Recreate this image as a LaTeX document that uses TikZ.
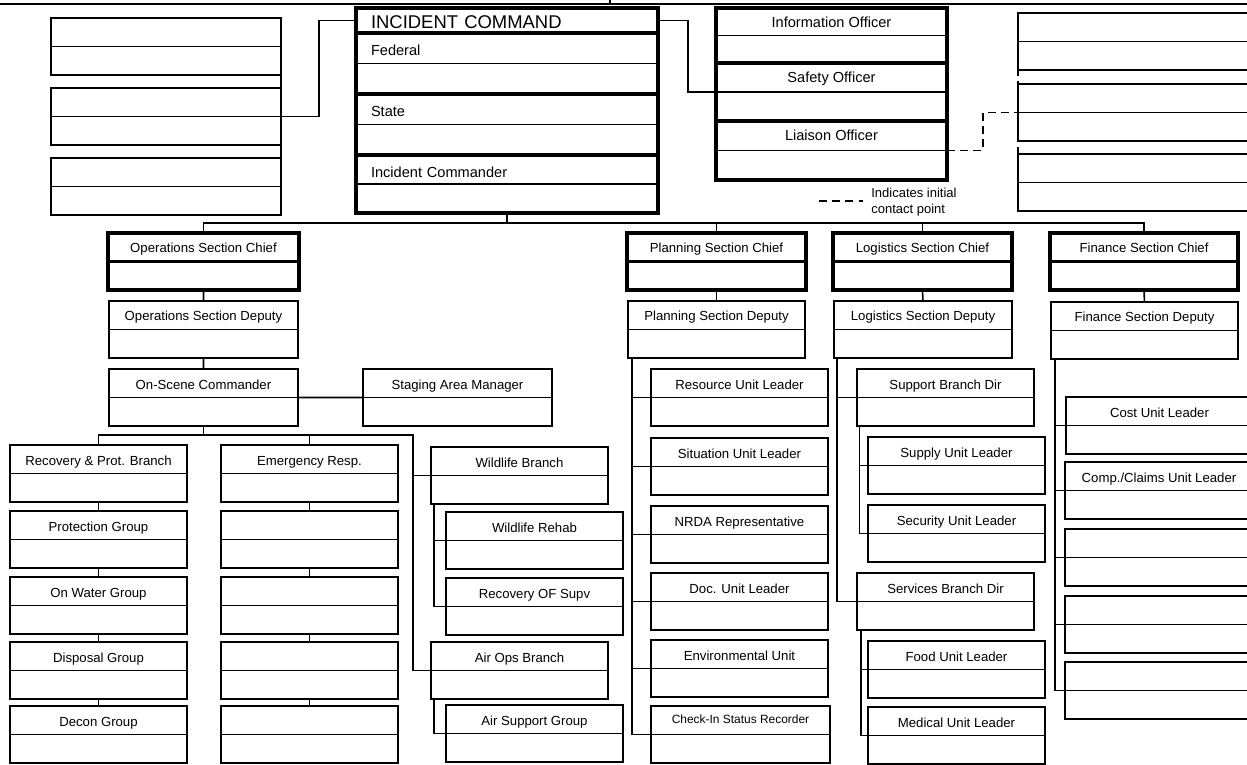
\documentclass[tikz,border=0pt]{standalone}
\usepackage{fontspec}
\setmainfont{Liberation Sans}
\usetikzlibrary{positioning}

\begin{document}
\begin{tikzpicture}[
    x=0.02cm, y=-0.02cm,
    box/.style={draw, line width=1pt, anchor=north west, inner sep=0pt, outer sep=0pt,
        minimum width=3.54cm, text height=0.4cm, text depth=0.74cm,
        font=\fontsize{7.5}{9}\selectfont,
        path picture={\draw[line width=0.8pt] (path picture bounding box.west) -- (path picture bounding box.east);}},
    chief/.style={box, line width=2.3pt,
        path picture={\draw[line width=2pt] (path picture bounding box.west) -- (path picture bounding box.east);}},
    icrow/.style={box, line width=2.3pt, minimum width=6.04cm, text width=5.44cm, align=left,
        inner xsep=0.3cm, text height=0.46cm, text depth=0.76cm, font=\fontsize{8.3}{10}\selectfont},
    staff/.style={box, line width=2.3pt, minimum width=4.62cm, font=\fontsize{8.3}{10}\selectfont},
    link/.style={line width=0.9pt},
    contact/.style={line width=0.9pt, dash pattern=on 4.5pt off 3pt},
    lbl/.style={font=\fontsize{7.4}{9}\selectfont}
]
    \path[use as bounding box] (0,0) rectangle (1247,764);
    \clip (0,0) rectangle (1247,764);

    % top rule
    \coordinate (rl) at (0,4);
    \coordinate (rr) at (1247,4);
    \coordinate (rt) at (610,0);
    \draw[line width=1.5pt] (rl) -- (rr) (rt) -- (rt |- rl);

    % agencies (left)
    \node[box, minimum width=4.6cm] (ag1) at (51,18) {};
    \node[box, minimum width=4.6cm] (ag2) at (51,88) {};
    \node[box, minimum width=4.6cm] (ag3) at (51,158) {};

    % incident command
    \node[icrow, text height=0.42cm, text depth=0.08cm, font=\fontsize{10.5}{12}\selectfont, path picture={}] (ict) at (356,8) {INCIDENT COMMAND};
    \node[icrow] (icf) at (356,33) {Federal};
    \node[icrow] (ics) at (356,94) {State};
    \node[icrow, text depth=0.7cm] (icc) at (356,155) {Incident Commander};

    % command staff
    \node[staff, text depth=0.7cm] (oin) at (716,8) {Information Officer};
    \node[staff, text depth=0.76cm] (osf) at (716,63) {Safety Officer};
    \node[staff, text depth=0.78cm] (oli) at (716,121) {Liaison Officer};

    % agency representatives (right)
    \node[box, minimum width=5.2cm] (rp1) at (1018,13) {};
    \node[box, minimum width=5.2cm] (rp2) at (1018,84) {};
    \node[box, minimum width=5.2cm] (rp3) at (1018,154) {};

    \coordinate (lg1) at (819,201);
    \coordinate (lg2) at (863,201);
    \draw[contact] (lg1) -- (lg2);
    \node[lbl, anchor=west, align=left, inner sep=0pt] (lgt) at (871,202) {Indicates initial\\contact point};

    % operations
    \node[chief, minimum width=3.82cm] (osc) at (108,233) {Operations Section Chief};
    \node[box, minimum width=3.78cm] (osd) at (109,301) {Operations Section Deputy};
    \node[box, minimum width=3.78cm] (ocs) at (109,369) {On-Scene Commander};
    \node[box, minimum width=3.78cm] (sam) at (363,369) {Staging Area Manager};

    \node[box] (rpb) at (10,445) {Recovery \& Prot. Branch};
    \node[box] (prg) at (10,511) {Protection Group};
    \node[box] (owg) at (10,577) {On Water Group};
    \node[box] (dpg) at (10,642) {Disposal Group};
    \node[box] (dcg) at (10,706) {Decon Group};

    \node[box] (erb) at (221,445) {Emergency Resp.};
    \node[box] (er1) at (221,511) {};
    \node[box] (er2) at (221,577) {};
    \node[box] (er3) at (221,642) {};
    \node[box] (er4) at (221,706) {};

    \node[box] (wlb) at (431,447) {Wildlife Branch};
    \node[box] (wlr) at (446,512) {Wildlife Rehab};
    \node[box] (rof) at (446,578) {Recovery OF Supv};
    \node[box] (aob) at (431,642) {Air Ops Branch};
    \node[box] (asg) at (446,705) {Air Support Group};

    % planning
    \node[chief, minimum width=3.58cm] (psc) at (627,233) {Planning Section Chief};
    \node[box] (psd) at (628,301) {Planning Section Deputy};
    \node[box] (rul) at (651,369) {Resource Unit Leader};
    \node[box] (sul) at (651,438) {Situation Unit Leader};
    \node[box] (nrd) at (651,506) {NRDA Representative};
    \node[box] (dul) at (651,573) {Doc. Unit Leader};
    \node[box] (env) at (651,640) {Environmental Unit};
    \node[box, minimum width=3.58cm, text height=0.34cm, text depth=0.8cm, font=\fontsize{6.8}{8}\selectfont] (cir) at (651,706) {Check-In Status Recorder};

    % logistics
    \node[chief, minimum width=3.58cm] (lsc) at (833,233) {Logistics Section Chief};
    \node[box, minimum width=3.56cm] (lsd) at (834,301) {Logistics Section Deputy};
    \node[box] (sbd) at (857,369) {Support Branch Dir};
    \node[box] (sup) at (868,437) {Supply Unit Leader};
    \node[box] (sec) at (868,505) {Security Unit Leader};
    \node[box] (svd) at (857,573) {Services Branch Dir};
    \node[box] (fdl) at (868,641) {Food Unit Leader};
    \node[box] (mdl) at (868,707) {Medical Unit Leader};

    % finance
    \node[chief, minimum width=3.76cm] (fsc) at (1050,233) {Finance Section Chief};
    \node[box, minimum width=3.74cm] (fsd) at (1051,302) {Finance Section Deputy};
    \node[box, minimum width=3.74cm] (cul) at (1066,397) {Cost Unit Leader};
    \node[box, minimum width=3.76cm] (ccl) at (1065,462) {Comp./Claims Unit Leader};
    \node[box, minimum width=3.76cm] (fu1) at (1065,529) {};
    \node[box, minimum width=3.76cm] (fu2) at (1065,596) {};
    \node[box, minimum width=3.76cm] (fu3) at (1065,662) {};

    % command links
    \draw[link] (ag1.east) -- (ag3.east);
    \draw[link] (ag2.east) -- ++(38,0) |- (ict.west);
    \draw[link] (ict.east) -- ++(30,0) |- (osf.west);
    \draw[contact] (oli.east) -- ++(36,0) |- (rp2.west);
    \draw[contact] (rp1.west) -- (rp3.west);
    \draw[link] (icc.south) -- ++(0,10);
    \draw[link] (osc.north) -- ++(0,-10) -| (fsc.north);
    \draw[link] (psc.north) -- ++(0,-10) (lsc.north) -- ++(0,-10);

    % operations links
    \draw[link] (osc.south) -- (osd.north) (osd.south) -- (ocs.north) (ocs.east) -- (sam.west);
    \draw[link] (ocs.south) -- ++(0,9) coordinate (ob);
    \draw[link] (rpb.north) |- (ob) -| (erb.north);
    \draw[link] (aob.west) -- ++(-18,0) |- (ob);
    \draw[link] (wlb.west) -- ++(-18,0);
    \draw[link] (rpb.south) -- (prg.north) (prg.south) -- (owg.north) (owg.south) -- (dpg.north) (dpg.south) -- (dcg.north);
    \draw[link] (erb.south) -- (er1.north) (er1.south) -- (er2.north) (er2.south) -- (er3.north) (er3.south) -- (er4.north);
    \draw[link] ([xshift=0.06cm]wlb.south west) |- (rof.west) (wlr.west) -- ++(-12,0);
    \draw[link] ([xshift=0.06cm]aob.south west) |- (asg.west);

    % planning links
    \draw[link] (psc.south) -- (psd.north);
    \draw[link] ([xshift=0.08cm]psd.south west) |- (cir.west);
    \draw[link] (rul.west) -- ++(-19,0) (sul.west) -- ++(-19,0) (nrd.west) -- ++(-19,0)
        (dul.west) -- ++(-19,0) (env.west) -- ++(-19,0);

    % logistics links
    \draw[link] (lsc.south) -- (lsd.north);
    \draw[link] ([xshift=0.06cm]lsd.south west) |- (svd.west) (sbd.west) -- ++(-20,0);
    \draw[link] ([xshift=0.05cm]sbd.south west) |- (sec.west) (sup.west) -- ++(-9,0);
    \draw[link] ([xshift=0.08cm]svd.south west) |- (mdl.west) (fdl.west) -- ++(-8,0);

    % finance links
    \draw[link] (fsc.south) -- (fsd.north);
    \draw[link] ([xshift=0.08cm]fsd.south west) |- (fu3.west) (cul.west) -- ++(-11,0)
        (ccl.west) -- ++(-10,0) (fu1.west) -- ++(-10,0) (fu2.west) -- ++(-10,0);
\end{tikzpicture}
\end{document}
